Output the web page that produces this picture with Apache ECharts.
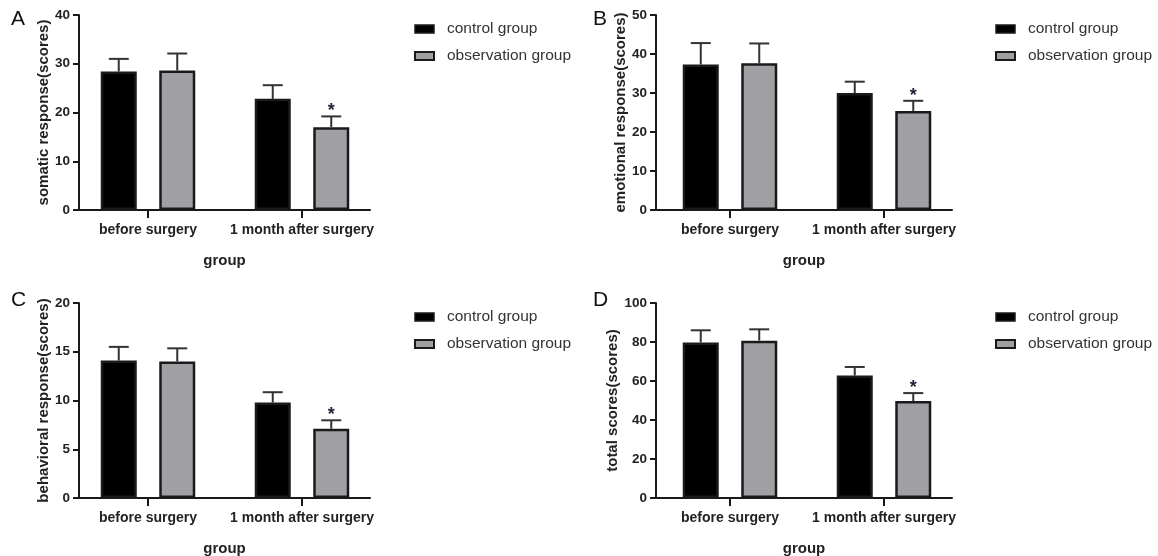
<!DOCTYPE html>
<html>
<head>
<meta charset="utf-8">
<script src="https://cdn.jsdelivr.net/npm/echarts@6/dist/echarts.min.js"></script>
<style>html,body{margin:0;padding:0;background:#fff}#c{width:1158px;height:556px}</style>
</head>
<body>
<div id="c"></div>
<script>
// ---- data ----
const categories = ['before surgery', '1 month after surgery'];
const seriesNames = ['control group', 'observation group'];
const panelLetters = ['A', 'B', 'C', 'D'];
const yTitles = ['somatic response(scores)', 'emotional response(scores)', 'behavioral response(scores)', 'total scores(scores)'];
const yMax = [40, 50, 20, 100];
const yInterval = [10, 10, 5, 20];
const controlMeanA = [28.4, 22.8], controlSdA = [2.6, 2.8];
const observMeanA = [28.6, 17.0], observSdA = [3.5, 2.2];
const controlMeanB = [37.3, 30.0], controlSdB = [5.5, 2.9];
const observMeanB = [37.6, 25.4], observSdB = [5.1, 2.6];
const controlMeanC = [14.1, 9.8], controlSdC = [1.4, 1.05];
const observMeanC = [14.0, 7.1], observSdC = [1.35, 0.87];
const controlMeanD = [79.8, 62.8], controlSdD = [6.2, 4.4];
const observMeanD = [80.7, 49.7], observSdD = [5.8, 4.1];
const significant = [false, true]; // star on observation group

const panels = [
  [controlMeanA, controlSdA, observMeanA, observSdA],
  [controlMeanB, controlSdB, observMeanB, observSdB],
  [controlMeanC, controlSdC, observMeanC, observSdC],
  [controlMeanD, controlSdD, observMeanD, observSdD]
];

// ---- layout ----
const FONT = 'Liberation Sans, Arial, sans-serif';
const frameLeft = [79, 656, 79, 656];
const frameWidth = [291, 296, 291, 296];
const barsLeft = [71, 653, 71, 653];
const barsWidth = [308, 308, 308, 308];
const gridTop = [15, 15, 303, 303];
const gridHeight = 195;
const legendLeft = [414, 995, 414, 995];
const legendTop = [21, 21, 309, 309];
const letterPos = [[11, 9], [593, 9], [11, 290], [593, 290]];
const BAR_W = 36, BAR_GAP = 22.5;
const GRAY = '#a0a0a4';
const EDGE = '#1a1a1a';

const chart = echarts.init(document.getElementById('c'), null, {renderer: 'canvas'});
const option = {
  animation: false,
  backgroundColor: '#fff',
  title: [], grid: [], xAxis: [], yAxis: [], legend: [], series: []
};

panels.forEach((p, i) => {
  option.title.push({text: panelLetters[i], left: letterPos[i][0], top: letterPos[i][1], padding: 0,
    textStyle: {fontFamily: FONT, fontSize: 21, fontWeight: 'normal', color: '#111'}});
  option.grid.push({left: frameLeft[i], top: gridTop[i], width: frameWidth[i], height: gridHeight,
    containLabel: false, outerBoundsMode: 'none'});
  option.grid.push({left: barsLeft[i], top: gridTop[i], width: barsWidth[i], height: gridHeight,
    containLabel: false, outerBoundsMode: 'none'});
  const gF = 2 * i, gB = 2 * i + 1;
  option.xAxis.push({gridIndex: gF, type: 'value', min: 0, max: 1,
    axisLine: {show: true, onZero: false, lineStyle: {color: EDGE, width: 2}}, axisTick: {show: false},
    axisLabel: {show: false}, splitLine: {show: false},
    name: 'group', nameLocation: 'middle', nameGap: 43,
    nameTextStyle: {fontFamily: FONT, fontSize: 15, fontWeight: 'bold', color: '#222'}});
  option.xAxis.push({gridIndex: gB, type: 'category', data: categories,
    axisLine: {show: false},
    axisTick: {show: true, alignWithLabel: true, interval: 0, length: 8, lineStyle: {color: EDGE, width: 2}},
    axisLabel: {interval: 0, fontFamily: FONT, fontSize: 14, fontWeight: 'bold', color: '#222', margin: 13},
    splitLine: {show: false}});
  option.yAxis.push({gridIndex: gF, type: 'value', min: 0, max: yMax[i], interval: yInterval[i],
    axisLine: {show: true, onZero: false, lineStyle: {color: EDGE, width: 2}},
    axisTick: {show: true, length: 6, lineStyle: {color: EDGE, width: 2}},
    axisLabel: {fontFamily: FONT, fontSize: 13.5, fontWeight: 'bold', color: '#222', margin: 9},
    splitLine: {show: false},
    name: yTitles[i], nameLocation: 'middle', nameGap: 26, nameRotate: 90,
    nameTextStyle: {fontFamily: FONT, fontSize: 15, fontWeight: 'bold', color: '#222'}});
  option.yAxis.push({gridIndex: gB, type: 'value', min: 0, max: yMax[i], interval: yInterval[i], show: false});
  const xi = 2 * i + 1, yi = 2 * i + 1;
  const means = [p[0], p[2]], sds = [p[1], p[3]];
  means.forEach((m, s) => {
    option.series.push({type: 'bar', name: seriesNames[s], xAxisIndex: xi, yAxisIndex: yi,
      data: m, barWidth: BAR_W, barGap: (BAR_GAP / BAR_W * 100) + '%',
      itemStyle: {color: s === 0 ? '#000' : GRAY, borderColor: EDGE, borderWidth: 2.5},
      z: 2});
    const offset = (s === 0 ? -1 : 1) * (BAR_W + BAR_GAP) / 2;
    option.series.push({type: 'custom', name: seriesNames[s] + ' SD', xAxisIndex: xi, yAxisIndex: yi,
      data: m.map((v, k) => [k, v, sds[s][k], (s === 1 && significant[k]) ? 1 : 0]),
      z: 3,
      renderItem: (params, api) => {
        const k = api.value(0), mean = api.value(1), sd = api.value(2);
        const x = api.coord([k, mean])[0] + offset;
        const yb = api.coord([k, mean])[1];
        const yt = api.coord([k, mean + sd])[1];
        const children = [
          {type: 'line', shape: {x1: x, y1: yb, x2: x, y2: yt}, style: {stroke: '#333', lineWidth: 2}},
          {type: 'line', shape: {x1: x - 10, y1: yt, x2: x + 10, y2: yt}, style: {stroke: '#333', lineWidth: 2}}
        ];
        if (api.value(3) === 1) {
          children.push({type: 'text', style: {text: '*', x: x, y: yt + 4, textAlign: 'center', textVerticalAlign: 'bottom',
            fontSize: 18, fontWeight: 'bold', fontFamily: FONT, fill: '#1c2238'}});
        }
        return {type: 'group', children};
      }});
  });
  option.legend.push({orient: 'vertical', left: legendLeft[i], top: legendTop[i], padding: 0,
    itemWidth: 19, itemHeight: 8, itemGap: 11,
    textStyle: {fontFamily: FONT, fontSize: 15.5, color: '#333', padding: [0, 0, 0, 8]},
    data: [
      {name: seriesNames[0], icon: 'rect', itemStyle: {color: '#000', borderColor: EDGE, borderWidth: 1.5}},
      {name: seriesNames[1], icon: 'rect', itemStyle: {color: GRAY, borderColor: EDGE, borderWidth: 2}}
    ]});
});

chart.setOption(option);
</script>
</body>
</html>
